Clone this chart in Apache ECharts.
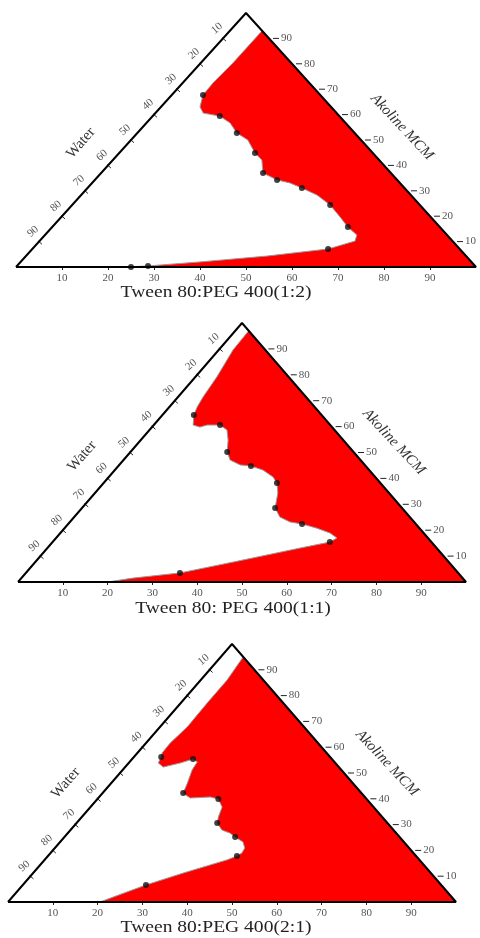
<!DOCTYPE html>
<html>
<head>
<meta charset="utf-8">
<script src="https://cdn.jsdelivr.net/npm/echarts@6/dist/echarts.min.js"></script>
<style>
    html, body { margin: 0; padding: 0; background: #fff; }
    #main { width: 480px; height: 938px; }
</style>
</head>
<body>
<div id="main"></div>
<script>
    // compositions are [Tween 80:PEG 400, Akoline MCM] in %, water = 100 - both
    var edgeTicks = [10, 20, 30, 40, 50, 60, 70, 80, 90];
    var frame = [[0, 0], [100, 0], [50, 100], [0, 0]];

    var titles = ['Tween 80:PEG 400(1:2)', 'Tween 80: PEG 400(1:1)', 'Tween 80:PEG 400(2:1)'];
    var leftName = 'Water';
    var rightName = 'Akoline MCM';

    //边界曲线 (1:2)
    var curve12 = [[7, 93], [7.0, 80.3], [6.6, 72.4], [6.8, 67.7], [8.5, 63.0], [10.4, 60.6], [14.6, 59.4], [18.2, 56.7],
        [21.6, 52.8], [25.4, 50], [29.5, 44.9], [32.4, 42.1], [35.2, 37.0], [39.6, 34.3], [43.0, 33.1], [46.6, 31.1],
        [51.3, 28.3], [56.1, 24.4], [60.6, 19.7], [64.3, 15.7], [67.8, 12.6], [68.6, 10.2], [64.3, 7.1], [52.4, 4.3],
        [39.0, 2.0], [28.5, 0.4], [23.7, 0]];
    var dots12 = [[6.8, 67.7], [14.6, 59.4], [21.6, 52.8], [29.5, 44.9], [35.2, 37.0], [39.6, 34.3], [46.6, 31.1],
        [56.1, 24.4], [64.3, 15.7], [64.3, 7.1], [28.5, 0.4], [25, 0]];

    //边界曲线 (1:1)
    var curve11 = [[3, 97], [3.2, 89.6], [4.8, 79.2], [5.6, 71.4], [6.2, 67.6], [7.0, 64.5], [8.8, 60.6], [10.7, 59.8],
        [11.9, 60.6], [14.8, 60.6], [17.3, 58.7], [19.5, 54.8], [21.6, 50.2], [23.8, 47.1], [27.0, 45.2], [29.6, 44.8],
        [33.1, 43.2], [36.7, 40.5], [38.7, 38.2], [40.8, 34.4], [43.1, 28.6], [45.9, 25.1], [49.1, 23.2], [52.2, 22.4],
        [56.3, 20.8], [60.2, 18.9], [62.7, 17.0], [61.9, 15.4], [56.4, 13.1], [44.2, 7.7], [34.4, 3.5], [24.9, 1.5],
        [19.9, 0]];
    var dots11 = [[7.0, 64.5], [14.8, 60.6], [21.6, 50.2], [29.6, 44.8], [38.7, 38.2], [43.1, 28.6], [52.2, 22.4],
        [61.9, 15.4], [34.4, 3.5]];

    //边界曲线 (2:1)
    var curve21 = [[5, 95], [5.9, 86.0], [5.9, 77.1], [6.1, 67.8], [5.4, 61.6], [5.5, 57.8], [6.1, 56.2], [6.6, 53.9],
        [8.5, 52.3], [11.5, 53.9], [13.6, 55.4], [15.1, 54.3], [15.5, 51.2], [17.0, 46.1], [18.0, 42.2], [20.5, 40.3],
        [24.8, 40.7], [27.0, 39.9], [29.4, 36.8], [30.5, 32.9], [31.4, 30.6], [33.8, 27.9], [36.2, 26.7], [38.1, 25.2],
        [40.8, 23.3], [42.4, 20.9], [42.7, 19.0], [42.2, 17.8], [40.7, 16.3], [33.5, 11.2], [27.5, 6.6], [24.6, 3.9],
        [20.5, 0]];
    var dots21 = [[6.1, 56.2], [13.6, 55.4], [18.0, 42.2], [27.0, 39.9], [31.4, 30.6], [38.1, 25.2], [42.2, 17.8],
        [27.5, 6.6]];

    var curves = [curve12, curve11, curve21];
    var dots = [dots12, dots11, dots21];

    // 版面位置 (pixels)
    var panels = [
        {left: 16, top: 13, width: 460, height: 254, title: [216, 293], water: [14.1, 48.8], oil: [83.9, 55.1]},
        {left: 18, top: 323, width: 448, height: 259, title: [233, 609], water: [14.3, 48.6], oil: [83.9, 54.1]},
        {left: 8, top: 644, width: 448, height: 258, title: [216, 928], water: [12.9, 46.1], oil: [84.6, 53.9]}
    ];

    var serif = '"Liberation Serif", "DejaVu Serif", serif';

    // ternary -> cartesian (x along base, y = height)
    function toXY(p) {
        return [p[0] + p[1] / 2, p[1]];
    }

    function pos(pn, X, Y) {
        return [pn.left + X / 100 * pn.width, pn.top + (1 - Y / 100) * pn.height];
    }

    var grids = [], xAxes = [], yAxes = [], series = [], graphics = [];

    panels.forEach(function (pn, i) {
        var curve = curves[i];
        grids.push({left: pn.left, top: pn.top, width: pn.width, height: pn.height});
        xAxes.push({
            gridIndex: i, type: 'value', min: 0, max: 100, interval: 10,
            axisLine: {show: false},
            splitLine: {show: false},
            axisTick: {show: true, length: 3, customValues: edgeTicks, lineStyle: {color: '#222', width: 1}},
            axisLabel: {customValues: edgeTicks, margin: 6, fontSize: 11, color: '#555', fontFamily: serif}
        });
        yAxes.push({gridIndex: i, type: 'value', min: 0, max: 100, show: false});

        //红色区域
        series.push({
            type: 'custom', xAxisIndex: i, yAxisIndex: i, z: 1, silent: true,
            data: [0],
            renderItem: function (params, api) {
                var pts = curve.map(function (p) {
                    return api.coord(toXY(p));
                });
                pts.push(api.coord([100, 0]));
                return {type: 'polygon', shape: {points: pts}, style: {fill: '#ff0000'}};
            }
        });
        series.push({
            type: 'line', xAxisIndex: i, yAxisIndex: i, z: 2, silent: true, clip: false,
            data: curve.map(toXY), showSymbol: false,
            lineStyle: {color: '#9a9a9a', width: 1}
        });
        series.push({
            type: 'scatter', xAxisIndex: i, yAxisIndex: i, z: 3, silent: true,
            data: dots[i].map(toXY), symbolSize: 6,
            itemStyle: {color: '#111'}
        });
        //三角形
        series.push({
            type: 'line', xAxisIndex: i, yAxisIndex: i, z: 5, silent: true, clip: false,
            data: frame, showSymbol: false,
            lineStyle: {color: '#000', width: 2}
        });
        //两侧刻度
        series.push({
            type: 'custom', xAxisIndex: i, yAxisIndex: i, z: 5, silent: true,
            data: edgeTicks.map(function (v) { return [v]; }),
            renderItem: function (params, api) {
                var v = api.value(0);
                var L = api.coord(toXY([0, 100 - v]));
                var R = api.coord(toXY([100 - v, v]));
                var a = api.coord([0, 0]), b = api.coord([50, 100]);
                var dx = b[0] - a[0], dy = b[1] - a[1], len = Math.sqrt(dx * dx + dy * dy);
                var nx = dy / len, ny = -dx / len; // outward normal of left edge
                return {
                    type: 'group',
                    children: [
                        {type: 'line', shape: {x1: L[0] + nx * 1, y1: L[1] + ny * 1, x2: L[0] - nx * 4, y2: L[1] - ny * 4},
                            style: {stroke: '#222', lineWidth: 1}},
                        {type: 'text', x: L[0] - 6, y: L[1] - 10, rotation: 0.7,
                            style: {text: String(v), x: 0, y: 0, fill: '#555', font: '11px ' + serif,
                                align: 'center', verticalAlign: 'middle', textAlign: 'center', textVerticalAlign: 'middle'}},
                        {type: 'line', shape: {x1: R[0] + 4, y1: R[1], x2: R[0] + 10, y2: R[1]},
                            style: {stroke: '#222', lineWidth: 1}},
                        {type: 'text', x: R[0] + 12, y: R[1],
                            style: {text: String(v), x: 0, y: 0, fill: '#555', font: '11px ' + serif,
                                align: 'left', verticalAlign: 'middle', textAlign: 'left', textVerticalAlign: 'middle'}}
                    ]
                };
            }
        });

        var w = pos(pn, pn.water[0], pn.water[1]);
        var o = pos(pn, pn.oil[0], pn.oil[1]);
        graphics.push({
            type: 'text', x: w[0], y: w[1], rotation: 0.85,
            style: {text: leftName, fill: '#333', font: '15px ' + serif,
                align: 'center', verticalAlign: 'middle', textAlign: 'center', textVerticalAlign: 'middle'}
        });
        graphics.push({
            type: 'text', x: o[0], y: o[1], rotation: -0.82,
            style: {text: rightName, fill: '#333', font: 'italic 15px ' + serif,
                align: 'center', verticalAlign: 'middle', textAlign: 'center', textVerticalAlign: 'middle'}
        });
        graphics.push({
            type: 'text', x: pn.title[0], y: pn.title[1], scaleX: 1.15,
            style: {text: titles[i], fill: '#222', font: '17px ' + serif,
                align: 'center', verticalAlign: 'middle', textAlign: 'center', textVerticalAlign: 'middle'}
        });
    });

    var chart = echarts.init(document.getElementById('main'));
    chart.setOption({
        animation: false,
        backgroundColor: '#fff',
        grid: grids,
        xAxis: xAxes,
        yAxis: yAxes,
        series: series,
        graphic: graphics
    });
</script>
</body>
</html>
